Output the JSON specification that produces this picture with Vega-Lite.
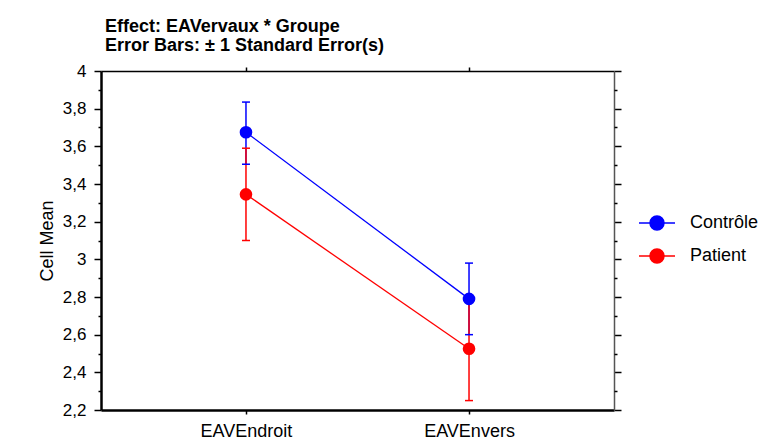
{
  "$schema": "https://vega.github.io/schema/vega-lite/v6.json",
  "width": 513,
  "height": 339,
  "autosize": {"type": "none"},
  "padding": {"left": 101, "top": 71, "right": 149, "bottom": 29},
  "background": "white",
  "title": {
    "text": ["Effect: EAVervaux * Groupe", "Error Bars: ± 1 Standard Error(s)"],
    "anchor": "start",
    "frame": "group",
    "dx": 4,
    "offset": 7,
    "font": "Liberation Sans",
    "fontSize": 18,
    "fontWeight": "bold",
    "lineHeight": 19,
    "color": "black"
  },
  "data": {
    "values": [
      {"EAVervaux": "EAVEndroit", "Groupe": "Contrôle", "mean": 3.675, "lower": 3.505, "upper": 3.835},
      {"EAVervaux": "EAVEnvers", "Groupe": "Contrôle", "mean": 2.79, "lower": 2.6, "upper": 2.98},
      {"EAVervaux": "EAVEndroit", "Groupe": "Patient", "mean": 3.345, "lower": 3.1, "upper": 3.59},
      {"EAVervaux": "EAVEnvers", "Groupe": "Patient", "mean": 2.525, "lower": 2.25, "upper": 2.795}
    ]
  },
  "encoding": {
    "color": {
      "field": "Groupe", "type": "nominal",
      "scale": {"domain": ["Contrôle", "Patient"], "range": ["#0000ff", "#ff0000"]},
      "legend": {
        "orient": "none", "legendX": 543, "legendY": 139, "title": null, "padding": 0,
        "symbolType": "M-1.5,0L1.5,0M0.583,0A0.583,0.583,0,1,1,-0.583,0A0.583,0.583,0,1,1,0.583,0Z",
        "symbolSize": 576, "symbolStrokeWidth": 1.5, "symbolOpacity": 1,
        "labelFontSize": 18, "labelFont": "Liberation Sans", "labelColor": "black", "labelOffset": 20, "rowPadding": 10,
        "encode": {"symbols": {"update": {"stroke": {"scale": "color", "field": "value"}, "fill": {"scale": "color", "field": "value"}, "opacity": {"value": 1}}}}
      }
    }
  },
  "resolve": {"axis": {"x": "independent", "y": "independent"}},
  "layer": [
    {
      "mark": {"type": "rule", "strokeWidth": 1.5},
      "encoding": {
        "x": {
          "field": "EAVervaux", "type": "nominal",
          "scale": {"type": "point", "padding": 0.65, "domain": ["EAVEndroit", "EAVEnvers"]},
          "axis": {"orient": "bottom", "title": null, "labelAngle": 0, "tickSize": 4, "tickWidth": 1.5, "tickColor": "black", "domainColor": "black", "domainWidth": 2.5, "labelFontSize": 18, "labelFont": "Liberation Sans", "labelColor": "black", "labelPadding": 8, "grid": false}
        },
        "y": {
          "field": "lower", "type": "quantitative",
          "scale": {"domain": [2.2, 4], "nice": false, "zero": false},
          "axis": {"orient": "left", "title": "Cell Mean", "values": [2.2, 2.4, 2.6, 2.8, 3, 3.2, 3.4, 3.6, 3.8, 4], "labelExpr": "replace(format(datum.value, '.2~f'), '.', ',')", "tickSize": 7, "tickWidth": 1.5, "tickColor": "black", "domainColor": "black", "domainWidth": 2.5, "labelFontSize": 17, "labelFont": "Liberation Sans", "labelColor": "black", "labelPadding": 8, "titleFont": "Liberation Sans", "titleFontSize": 18, "titleFontWeight": "normal", "titleColor": "black", "titlePadding": 6, "grid": false}
        },
        "y2": {"field": "upper"}
      }
    },
    {
      "mark": {"type": "tick", "orient": "horizontal", "size": 8, "thickness": 1.5, "opacity": 1},
      "encoding": {
        "x": {"field": "EAVervaux", "type": "nominal", "axis": {"orient": "top", "title": null, "labels": false, "tickSize": 4, "tickWidth": 1.5, "tickColor": "black", "domainColor": "black", "domainWidth": 1.5, "grid": false}},
        "y": {"field": "lower", "type": "quantitative", "axis": {"orient": "left", "title": null, "labels": false, "domain": false, "values": [2.3, 2.5, 2.7, 2.9, 3.1, 3.3, 3.5, 3.7, 3.9], "tickSize": 3, "tickWidth": 1.5, "tickColor": "black", "grid": false}}
      }
    },
    {
      "mark": {"type": "tick", "orient": "horizontal", "size": 8, "thickness": 1.5, "opacity": 1},
      "encoding": {
        "x": {"field": "EAVervaux", "type": "nominal", "axis": null},
        "y": {"field": "upper", "type": "quantitative", "axis": {"orient": "right", "title": null, "labels": false, "values": [2.2, 2.4, 2.6, 2.8, 3, 3.2, 3.4, 3.6, 3.8, 4], "tickSize": 7, "tickWidth": 1.5, "tickColor": "black", "domainColor": "#555555", "domainWidth": 1.5, "grid": false}}
      }
    },
    {
      "mark": {"type": "line", "strokeWidth": 1.3},
      "encoding": {
        "x": {"field": "EAVervaux", "type": "nominal", "axis": null},
        "y": {"field": "mean", "type": "quantitative", "axis": {"orient": "right", "title": null, "labels": false, "domain": false, "values": [2.3, 2.5, 2.7, 2.9, 3.1, 3.3, 3.5, 3.7, 3.9], "tickSize": 3, "tickWidth": 1.5, "tickColor": "black", "grid": false}}
      }
    },
    {
      "mark": {"type": "point", "shape": "circle", "filled": true, "size": 160, "opacity": 1},
      "encoding": {
        "x": {"field": "EAVervaux", "type": "nominal", "axis": null},
        "y": {"field": "mean", "type": "quantitative", "axis": null}
      }
    }
  ],
  "config": {"view": {"stroke": null}}
}
